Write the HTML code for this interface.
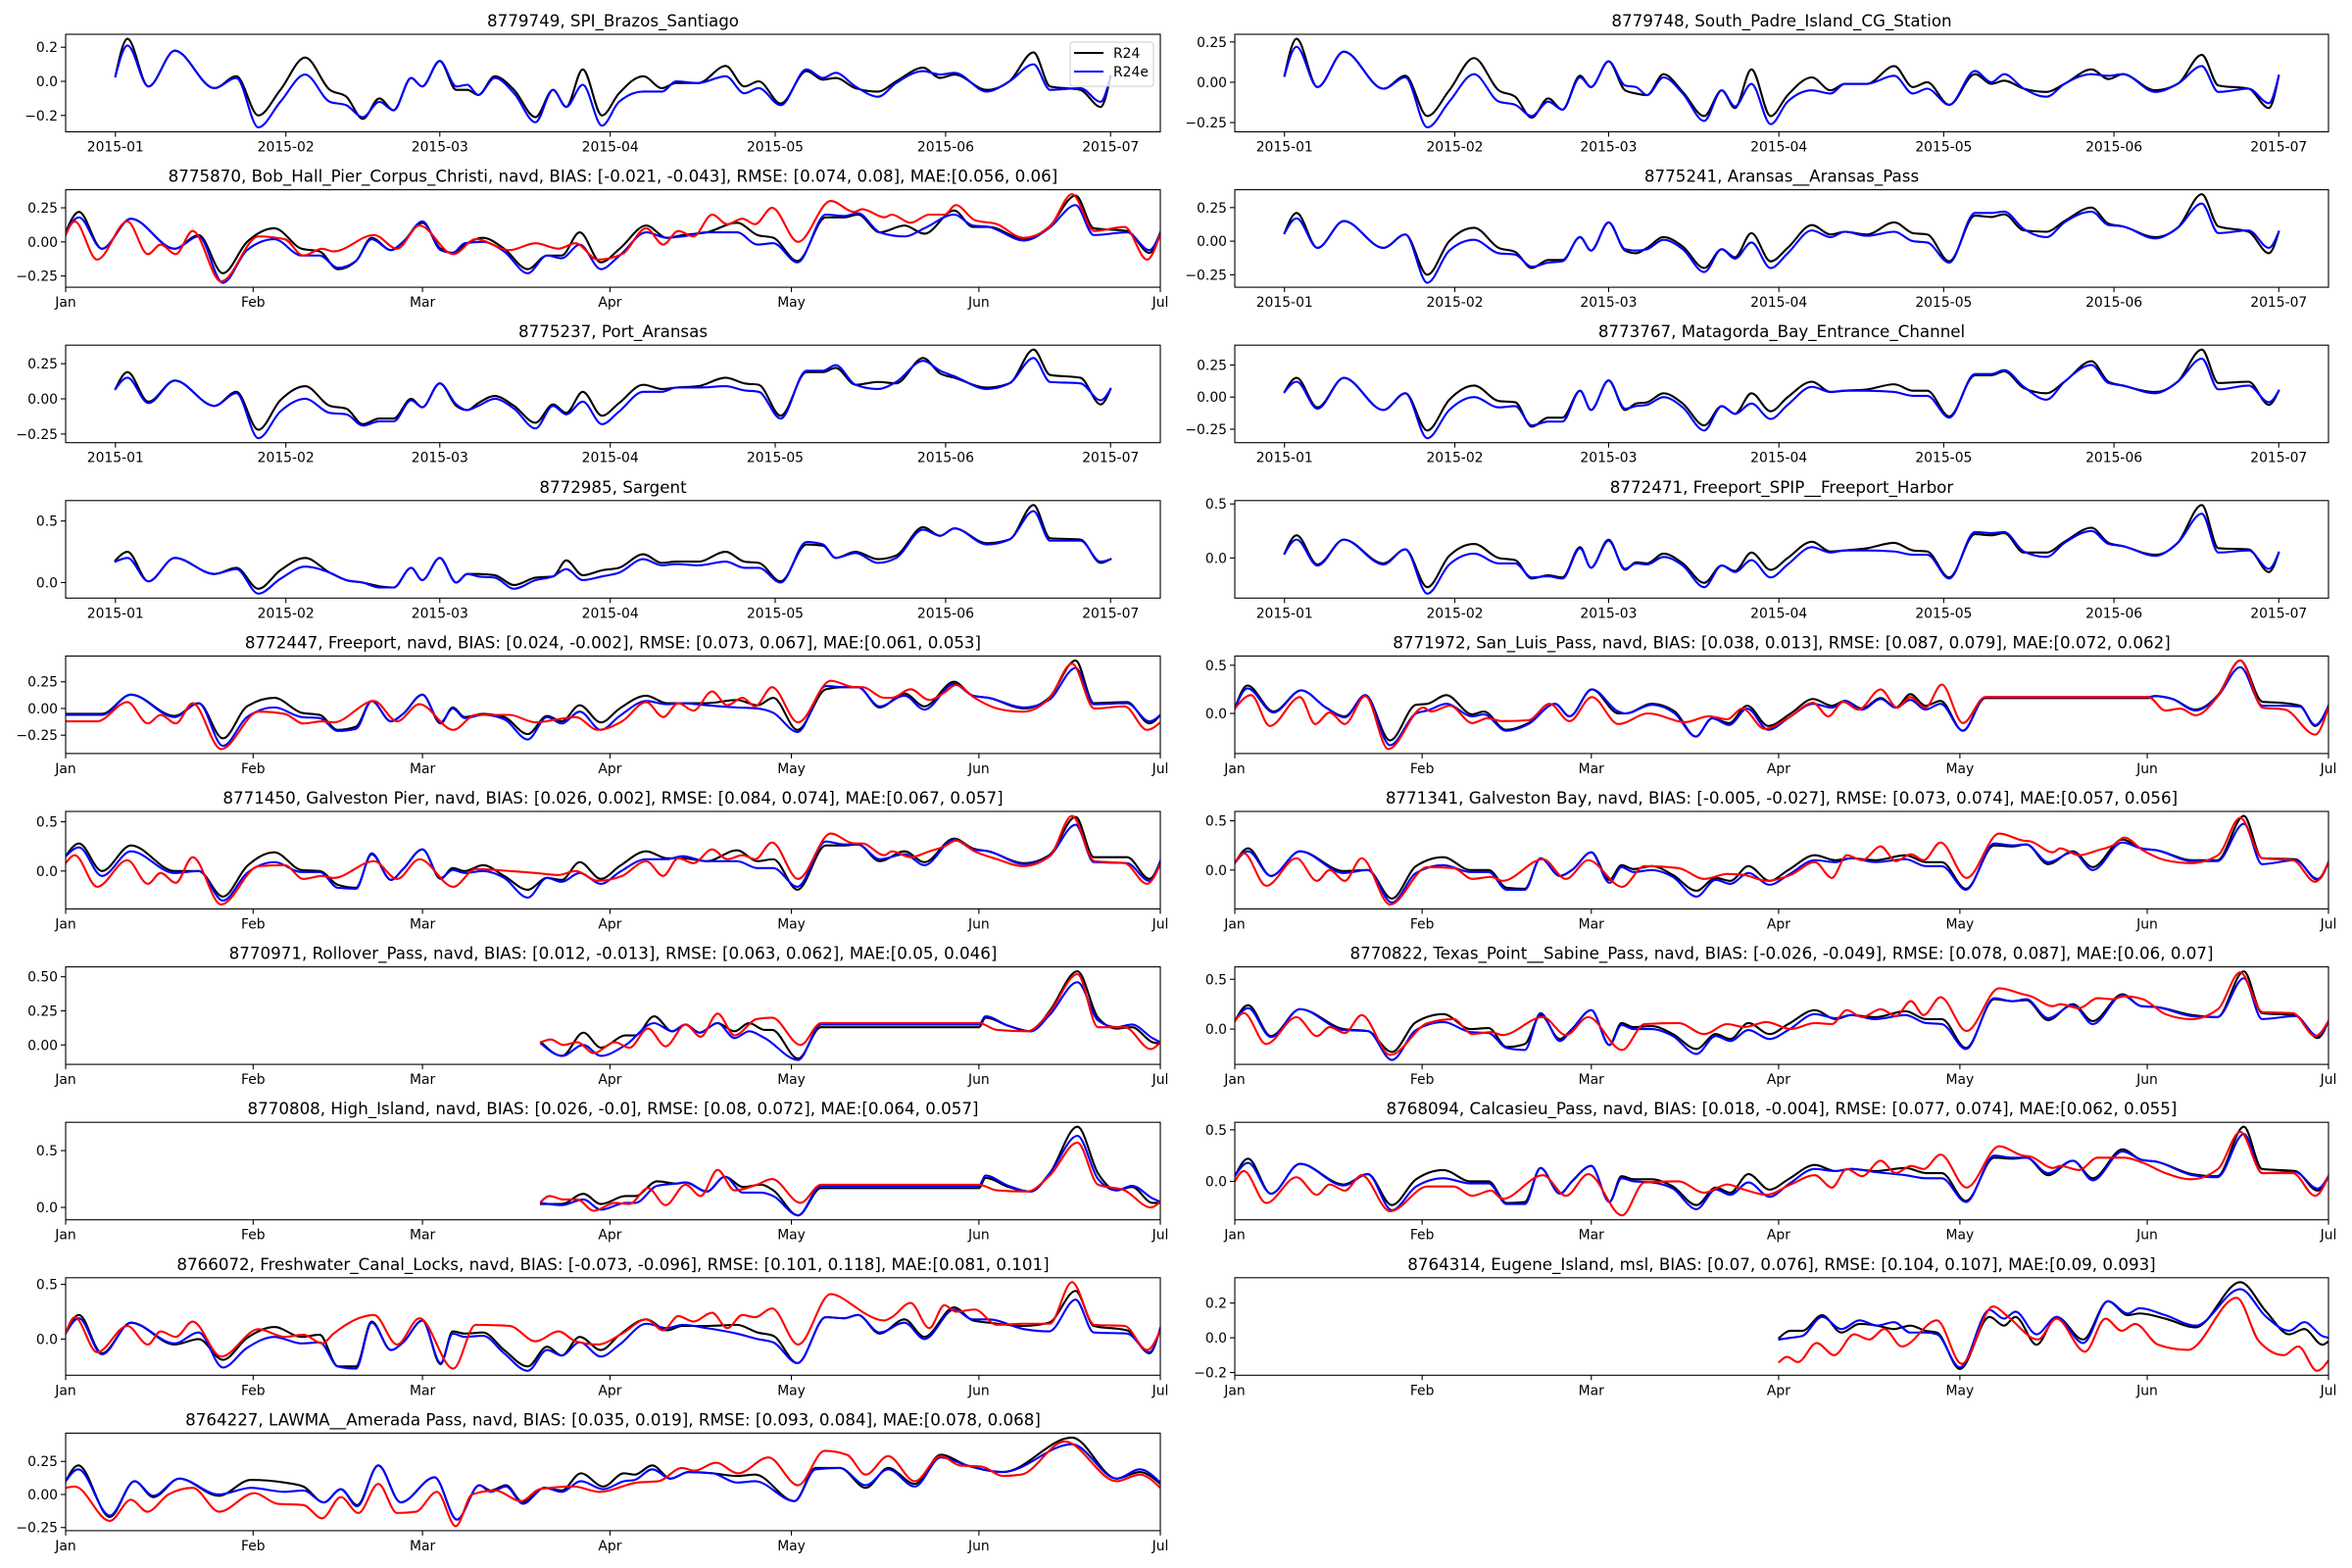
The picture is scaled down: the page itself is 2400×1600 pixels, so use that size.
<!DOCTYPE html>
<html><head><meta charset="utf-8"><title>Station comparison</title>
<style>
html,body{margin:0;padding:0;background:#fff;}
svg{display:block;font-family:"DejaVu Sans","Liberation Sans",sans-serif;}
</style></head>
<body>
<svg id="fig" width="2400" height="1600" viewBox="0 0 2400 1600" xmlns="http://www.w3.org/2000/svg">
<rect x="0" y="0" width="2400" height="1600" fill="#fff"/>
</svg>
<script>
// ---- shared day grids (days since 2015-01-01) ----
const D = [0,2.2,6,10.8,18,22,26,30,34.5,39,42,45,48,50.6,53.8,55.8,59,62,64,66,69,72.5,76.4,79.6,82,85,88.5,91.6,96,99.4,102,106,111,114.4,117,121,125.7,128.7,131,134.6,138.7,142,146.9,150,152.6,158.5,162.6,167,170,175.5,179.2,181];
const DR = [0,1.5,5.2,10.2,13.6,15.7,18.2,21,25.7,31.9,36.2,39.3,42.4,44.3,51,54.8,58.5,64.1,67.8,73.4,77.7,81.5,84.3,88,92,96,98.8,101.3,103.8,106.9,109.4,111.9,114,116.8,121.1,126.5,130.4,131.7,135.4,136.6,139.7,142.8,145.3,147.2,150.3,154,158.3,162.7,166.4,170.1,175.1,178.8,181];
const yearTickDays = [0,31,59,90,120,151,181];
const yearTickLabels = ["2015-01","2015-02","2015-03","2015-04","2015-05","2015-06","2015-07"];
const monthTickLabels = ["Jan","Feb","Mar","Apr","May","Jun","Jul"];

// ---- series values ----
const spiR24 = [0.03,0.25,-0.03,0.18,-0.04,0.03,-0.20,-0.05,0.14,-0.05,-0.09,-0.22,-0.10,-0.17,0.02,-0.03,0.12,-0.05,-0.05,-0.08,0.03,-0.05,-0.21,-0.05,-0.15,0.07,-0.20,-0.07,0.03,-0.04,-0.01,-0.01,0.09,-0.03,0.00,-0.13,0.06,0.01,0.02,-0.04,-0.06,0.00,0.08,0.02,0.04,-0.05,0.00,0.17,-0.03,-0.05,-0.15,0.03];
const spiR24e = [0.03,0.21,-0.03,0.18,-0.04,0.02,-0.27,-0.12,0.04,-0.12,-0.14,-0.21,-0.12,-0.17,0.02,-0.03,0.12,-0.03,-0.02,-0.08,0.02,-0.07,-0.24,-0.05,-0.15,-0.02,-0.26,-0.12,-0.06,-0.06,0.00,-0.01,0.03,-0.07,-0.04,-0.14,0.07,0.02,0.05,-0.03,-0.09,-0.01,0.06,0.04,0.05,-0.06,0.00,0.10,-0.05,-0.04,-0.12,0.03];
const spcgR24 = [0.04,0.27,-0.03,0.19,-0.04,0.04,-0.21,-0.05,0.15,-0.05,-0.09,-0.22,-0.10,-0.17,0.04,-0.03,0.13,-0.05,-0.07,-0.08,0.05,-0.06,-0.21,-0.05,-0.16,0.08,-0.21,-0.08,0.03,-0.05,-0.01,-0.01,0.10,-0.03,0.00,-0.14,0.05,-0.01,0.01,-0.04,-0.06,-0.01,0.08,0.02,0.05,-0.05,-0.01,0.17,-0.02,-0.04,-0.16,0.04];
const spcgR24e = [0.04,0.22,-0.03,0.19,-0.04,0.03,-0.28,-0.12,0.05,-0.12,-0.14,-0.21,-0.12,-0.17,0.03,-0.03,0.13,-0.02,-0.03,-0.08,0.03,-0.07,-0.24,-0.05,-0.15,-0.01,-0.26,-0.12,-0.05,-0.07,-0.01,-0.01,0.04,-0.07,-0.04,-0.14,0.07,0.00,0.05,-0.04,-0.09,-0.01,0.05,0.04,0.05,-0.06,-0.01,0.10,-0.06,-0.04,-0.13,0.04];
const bobR24 = [0.07,0.22,-0.05,0.17,-0.05,0.05,-0.23,0.00,0.10,-0.05,-0.07,-0.20,-0.14,0.03,-0.06,0.00,0.14,-0.05,-0.08,-0.02,0.03,-0.05,-0.20,-0.10,-0.10,0.07,-0.15,-0.05,0.12,0.03,0.05,0.07,0.14,0.05,0.03,-0.14,0.18,0.18,0.20,0.07,0.12,0.06,0.23,0.11,0.11,0.02,0.11,0.34,0.10,0.08,-0.08,0.07];
const bobR24e = [0.07,0.18,-0.05,0.17,-0.05,0.04,-0.30,-0.06,0.02,-0.10,-0.10,-0.19,-0.14,0.02,-0.06,0.00,0.15,-0.06,-0.08,-0.01,0.00,-0.07,-0.23,-0.10,-0.12,-0.02,-0.20,-0.10,0.07,0.03,0.04,0.07,0.07,-0.02,-0.01,-0.15,0.20,0.19,0.21,0.07,0.04,0.10,0.20,0.12,0.11,0.01,0.10,0.27,0.05,0.07,-0.06,0.07];
const bobObs = [0.05,0.15,-0.13,0.15,-0.09,-0.02,-0.09,0.08,-0.29,0.04,0.02,-0.10,-0.05,-0.07,0.05,-0.05,0.12,-0.09,0.02,-0.06,-0.01,-0.05,-0.01,-0.13,-0.09,0.10,-0.02,0.08,0.04,0.20,0.13,0.17,0.13,0.25,0.00,0.30,0.22,0.24,0.18,0.20,0.14,0.20,0.20,0.27,0.16,0.13,0.03,0.11,0.35,0.08,0.11,-0.13,0.06];
const araR24 = [0.06,0.21,-0.05,0.15,-0.05,0.05,-0.25,0.00,0.10,-0.05,-0.08,-0.20,-0.14,-0.14,0.03,-0.07,0.14,-0.07,-0.09,-0.05,0.03,-0.04,-0.20,-0.06,-0.12,0.06,-0.15,-0.05,0.12,0.05,0.07,0.05,0.14,0.06,0.05,-0.15,0.19,0.18,0.20,0.08,0.07,0.15,0.25,0.13,0.11,0.03,0.10,0.35,0.11,0.07,-0.09,0.07];
const araR24e = [0.06,0.17,-0.05,0.15,-0.05,0.05,-0.31,-0.07,0.01,-0.09,-0.10,-0.19,-0.16,-0.15,0.03,-0.07,0.14,-0.06,-0.07,-0.06,0.01,-0.06,-0.23,-0.06,-0.13,-0.01,-0.20,-0.09,0.08,0.03,0.07,0.04,0.07,0.00,-0.01,-0.16,0.21,0.21,0.22,0.09,0.03,0.14,0.22,0.12,0.11,0.02,0.10,0.28,0.06,0.08,-0.05,0.07];
const portR24 = [0.07,0.19,-0.02,0.13,-0.05,0.05,-0.22,-0.01,0.09,-0.05,-0.07,-0.18,-0.14,-0.14,0.00,-0.06,0.11,-0.05,-0.08,-0.03,0.02,-0.05,-0.17,-0.04,-0.10,0.05,-0.12,-0.03,0.10,0.07,0.08,0.09,0.15,0.11,0.10,-0.12,0.19,0.19,0.22,0.10,0.12,0.11,0.29,0.18,0.15,0.08,0.11,0.35,0.17,0.15,-0.04,0.07];
const portR24e = [0.07,0.15,-0.03,0.13,-0.05,0.04,-0.28,-0.09,0.00,-0.10,-0.11,-0.19,-0.16,-0.16,-0.01,-0.06,0.11,-0.04,-0.08,-0.05,0.00,-0.07,-0.21,-0.05,-0.11,-0.02,-0.18,-0.09,0.05,0.05,0.08,0.08,0.09,0.06,0.05,-0.14,0.20,0.20,0.24,0.10,0.07,0.12,0.27,0.20,0.16,0.07,0.11,0.29,0.12,0.11,-0.01,0.07];
const matR24 = [0.04,0.15,-0.08,0.15,-0.10,0.03,-0.26,-0.02,0.09,-0.03,-0.04,-0.23,-0.16,-0.16,0.05,-0.10,0.13,-0.10,-0.05,-0.04,0.03,-0.05,-0.22,-0.07,-0.13,0.03,-0.11,0.00,0.12,0.04,0.05,0.06,0.10,0.05,0.05,-0.15,0.17,0.17,0.20,0.07,0.03,0.12,0.28,0.12,0.09,0.04,0.12,0.37,0.11,0.12,-0.06,0.05];
const matR24e = [0.04,0.12,-0.09,0.15,-0.10,0.03,-0.32,-0.10,0.00,-0.08,-0.07,-0.22,-0.19,-0.19,0.05,-0.10,0.13,-0.09,-0.07,-0.06,0.00,-0.08,-0.26,-0.07,-0.13,-0.05,-0.17,-0.06,0.08,0.04,0.05,0.05,0.04,0.01,0.01,-0.16,0.18,0.18,0.21,0.08,-0.02,0.12,0.25,0.11,0.09,0.03,0.12,0.30,0.06,0.09,-0.04,0.05];
const sarR24 = [0.18,0.25,0.01,0.20,0.07,0.12,-0.05,0.10,0.20,0.08,0.02,0.00,-0.03,-0.04,0.12,0.02,0.20,0.00,0.07,0.07,0.06,-0.02,0.04,0.05,0.18,0.06,0.10,0.12,0.23,0.16,0.17,0.17,0.25,0.17,0.16,0.01,0.31,0.30,0.20,0.25,0.19,0.22,0.45,0.38,0.44,0.32,0.35,0.63,0.36,0.35,0.16,0.19];
const sarR24e = [0.17,0.20,0.01,0.20,0.07,0.11,-0.09,0.03,0.13,0.08,0.02,0.00,-0.04,-0.04,0.12,0.02,0.20,0.00,0.07,0.05,0.04,-0.05,0.02,0.05,0.11,0.02,0.05,0.08,0.19,0.14,0.15,0.14,0.17,0.12,0.12,0.00,0.33,0.31,0.20,0.24,0.16,0.20,0.43,0.38,0.44,0.31,0.35,0.58,0.34,0.34,0.17,0.19];
const fspR24 = [0.04,0.21,-0.06,0.17,-0.05,0.08,-0.27,0.02,0.13,0.00,-0.02,-0.19,-0.16,-0.18,0.10,-0.09,0.17,-0.11,-0.04,-0.05,0.04,-0.05,-0.23,-0.07,-0.12,0.05,-0.11,0.00,0.15,0.06,0.07,0.09,0.14,0.07,0.06,-0.18,0.22,0.21,0.23,0.05,0.05,0.15,0.28,0.14,0.11,0.03,0.14,0.49,0.09,0.08,-0.13,0.05];
const fspR24e = [0.04,0.17,-0.07,0.17,-0.06,0.08,-0.33,-0.06,0.04,-0.05,-0.05,-0.18,-0.17,-0.19,0.09,-0.09,0.16,-0.10,-0.05,-0.06,0.01,-0.07,-0.27,-0.07,-0.13,-0.02,-0.18,-0.06,0.10,0.05,0.07,0.07,0.06,0.03,0.03,-0.19,0.24,0.23,0.24,0.06,0.01,0.14,0.25,0.13,0.11,0.02,0.14,0.41,0.05,0.07,-0.10,0.05];
const frR24 = [-0.05,-0.05,-0.05,0.13,-0.07,0.05,-0.28,0.02,0.10,-0.04,-0.06,-0.20,-0.17,0.07,-0.12,-0.05,0.13,-0.14,0.01,-0.08,-0.05,-0.08,-0.24,-0.07,-0.12,0.03,-0.13,0.00,0.12,0.05,0.05,0.05,0.08,0.03,0.10,-0.20,0.18,0.20,0.20,0.01,0.14,0.02,0.25,0.12,0.10,0.00,0.10,0.45,0.05,0.06,-0.14,-0.06];
const frR24e = [-0.06,-0.06,-0.06,0.13,-0.08,0.05,-0.35,-0.08,0.01,-0.08,-0.09,-0.21,-0.19,0.07,-0.12,-0.05,0.13,-0.13,0.00,-0.09,-0.06,-0.10,-0.29,-0.08,-0.14,-0.03,-0.20,-0.07,0.07,0.04,0.05,0.03,0.01,0.00,-0.04,-0.22,0.21,0.20,0.20,0.02,0.12,-0.01,0.23,0.12,0.10,0.01,0.08,0.38,0.04,0.05,-0.12,-0.06];
const frObs = [-0.12,-0.12,-0.12,0.06,-0.14,-0.06,-0.14,0.05,-0.38,-0.03,-0.05,-0.14,-0.12,-0.13,0.07,-0.12,0.04,-0.20,-0.06,-0.06,-0.13,-0.10,-0.08,-0.20,-0.12,0.06,-0.08,0.05,-0.02,0.16,0.03,0.10,0.02,0.20,-0.13,0.26,0.20,0.20,0.10,0.10,0.18,0.08,0.15,0.22,0.10,0.00,-0.03,0.10,0.42,0.00,0.02,-0.20,-0.13];
const slpDays = [0,2.1,6.4,11,15.1,18.2,21.6,25.7,30,31.9,35,39.3,41.2,44.9,48.6,53,55.4,59.1,63.5,64.7,69,72.8,76.3,79,81.8,84.8,88.3,92,95.7,98.8,101,103.8,106.9,109.4,111.8,114.3,116.8,120.5,124.2,151.2,152.2,155.2,159,162.7,166.4,170.1,173.2,176.3,178.8,181];
const slpR24 = [0.05,0.29,0.02,0.24,0.06,-0.03,0.19,-0.28,0.09,0.10,0.19,-0.01,0.02,-0.17,-0.10,0.10,-0.03,0.25,0.00,0.00,0.10,0.02,-0.24,-0.05,-0.10,0.08,-0.13,0.00,0.15,0.08,0.13,0.05,0.16,0.06,0.20,0.08,0.13,-0.18,0.16,0.16,0.18,0.15,0.04,0.19,0.55,0.12,0.11,0.08,-0.13,0.08];
const slpR24e = [0.05,0.26,0.01,0.24,0.06,-0.04,0.19,-0.33,0.00,0.03,0.10,-0.03,-0.01,-0.18,-0.11,0.10,-0.03,0.25,0.02,0.00,0.09,0.00,-0.24,-0.05,-0.12,0.05,-0.17,-0.03,0.10,0.06,0.13,0.04,0.15,0.06,0.14,0.04,0.10,-0.18,0.17,0.17,0.18,0.15,0.03,0.18,0.48,0.08,0.08,0.07,-0.12,0.08];
const slpObsDays = [0,2.7,5.8,10.8,13.3,15.7,18.2,21.6,25.4,31.2,32.5,35.6,39.3,41.8,44.3,48.6,52.1,55.4,59.1,63.5,68.4,74.6,78.4,81.5,84,87.7,91.5,95.7,98.2,100.7,103.2,106.9,109.6,111.8,114.3,117,120.5,124.2,151.2,154,156.5,159,162.7,166.4,170.1,173.8,178.8,181];
const slpObs = [0.05,0.19,-0.13,0.17,-0.11,0.01,-0.11,0.18,-0.37,0.06,0.02,0.08,-0.10,-0.05,-0.08,-0.07,0.10,-0.08,0.17,-0.11,0.00,-0.09,-0.03,-0.06,0.05,-0.16,-0.05,0.11,-0.03,0.12,0.04,0.25,0.06,0.17,0.06,0.30,-0.10,0.17,0.17,0.03,0.05,-0.02,0.18,0.55,0.06,0.04,-0.22,0.07];
const gpR24 = [0.15,0.28,0.00,0.26,0.00,0.00,-0.26,0.05,0.19,0.01,0.00,-0.14,-0.17,0.17,-0.09,0.02,0.22,-0.08,0.03,0.00,0.06,-0.05,-0.19,-0.07,-0.09,0.09,-0.08,0.05,0.20,0.13,0.13,0.10,0.21,0.10,0.12,-0.19,0.26,0.26,0.27,0.10,0.20,0.09,0.33,0.23,0.20,0.08,0.16,0.55,0.14,0.14,-0.08,0.10];
const gpR24e = [0.15,0.24,-0.05,0.20,-0.02,0.00,-0.30,-0.02,0.09,-0.01,-0.01,-0.17,-0.18,0.18,-0.09,0.02,0.22,-0.07,0.01,-0.02,0.00,-0.07,-0.27,-0.07,-0.11,-0.02,-0.13,-0.01,0.12,0.12,0.15,0.10,0.10,0.03,0.03,-0.16,0.30,0.27,0.27,0.12,0.17,0.06,0.32,0.22,0.20,0.07,0.15,0.47,0.09,0.08,-0.10,0.10];
const gpObs = [0.08,0.16,-0.16,0.11,-0.13,-0.02,-0.12,0.14,-0.34,0.05,0.06,-0.08,-0.05,-0.07,0.10,-0.08,0.12,-0.16,0.02,0.00,-0.02,-0.04,0.00,-0.10,-0.05,0.10,-0.05,0.13,0.08,0.22,0.12,0.16,0.12,0.29,-0.08,0.38,0.28,0.28,0.16,0.20,0.14,0.20,0.25,0.31,0.20,0.12,0.05,0.15,0.56,0.10,0.08,-0.13,0.07];
const gbR24 = [0.07,0.22,-0.06,0.19,-0.01,0.00,-0.29,0.04,0.13,0.00,0.00,-0.18,-0.19,0.12,-0.06,0.00,0.18,-0.10,0.05,0.01,0.04,-0.05,-0.21,-0.08,-0.11,0.04,-0.11,0.00,0.15,0.10,0.12,0.10,0.15,0.08,0.08,-0.19,0.25,0.24,0.26,0.06,0.19,0.03,0.31,0.22,0.20,0.10,0.10,0.55,0.12,0.11,-0.10,0.08];
const gbR24e = [0.07,0.19,-0.06,0.19,-0.03,0.00,-0.33,-0.03,0.05,-0.02,-0.02,-0.20,-0.20,0.12,-0.06,0.00,0.18,-0.13,0.03,-0.02,0.00,-0.07,-0.27,-0.10,-0.14,-0.03,-0.15,-0.05,0.10,0.08,0.12,0.08,0.11,0.04,0.04,-0.20,0.27,0.25,0.26,0.08,0.18,0.00,0.28,0.22,0.20,0.09,0.09,0.47,0.06,0.10,-0.09,0.08];
const gbObs = [0.07,0.17,-0.16,0.12,-0.11,0.00,-0.11,0.12,-0.35,0.03,0.02,-0.09,-0.07,-0.11,0.11,-0.09,0.10,-0.17,0.04,0.02,-0.09,-0.04,-0.05,-0.11,-0.05,0.08,-0.08,0.15,0.10,0.24,0.09,0.16,0.10,0.28,-0.08,0.37,0.30,0.29,0.18,0.22,0.15,0.20,0.25,0.33,0.20,0.10,0.07,0.15,0.53,0.12,0.10,-0.12,0.08];
const roDays = [78.6,82.1,85.6,88.5,92.6,94.2,97.3,100.3,102.5,104.8,107.8,110.6,113,115.6,116.8,121.1,124.9,151,152.1,155.9,159.6,162.7,167.3,170.7,173.8,176.3,179.7,181];
const roR24 = [0.02,-0.08,0.09,-0.02,0.07,0.07,0.21,0.10,0.15,0.09,0.16,0.10,0.16,0.11,0.11,-0.10,0.13,0.13,0.20,0.14,0.10,0.25,0.54,0.20,0.12,0.13,0.02,0.01];
const roEDays = [78.6,82.1,85.6,88.5,92.6,97.3,100.3,102.5,104.8,107.8,110.6,113,115.6,121.1,124.9,151,152.1,155.9,159.6,162.7,167.3,170.7,173.8,176.3,179.7,181];
const roR24e = [0.01,-0.08,0.00,-0.08,0.00,0.16,0.10,0.15,0.09,0.16,0.05,0.10,0.05,-0.11,0.15,0.15,0.21,0.14,0.10,0.22,0.46,0.18,0.13,0.15,0.05,0.02];
const roObsDays = [78.6,80.2,82.3,84.6,87.3,90.8,93.2,96.3,99.2,102.5,105,107.8,110.6,114.3,116.8,121.5,124.9,151,154,159,162.7,167.3,170.7,175.1,179.4,181];
const roObs = [0.02,0.04,0.00,0.02,-0.06,0.02,-0.02,0.12,-0.01,0.15,0.06,0.23,0.07,0.19,0.20,0.00,0.16,0.16,0.11,0.10,0.24,0.52,0.13,0.13,-0.03,0.02];
const tpR24 = [0.08,0.24,-0.07,0.20,0.00,-0.02,-0.23,0.07,0.15,0.00,0.01,-0.18,-0.15,0.14,-0.10,0.00,0.19,-0.16,0.06,0.02,0.03,-0.05,-0.20,-0.05,-0.10,0.06,-0.05,0.05,0.19,0.10,0.14,0.12,0.18,0.10,0.10,-0.19,0.30,0.28,0.29,0.09,0.25,0.08,0.35,0.23,0.22,0.14,0.12,0.58,0.16,0.14,-0.09,0.08];
const tpR24e = [0.08,0.21,-0.08,0.20,-0.01,-0.02,-0.31,-0.01,0.07,-0.03,-0.04,-0.19,-0.21,0.16,-0.12,0.00,0.19,-0.16,0.04,0.00,0.00,-0.07,-0.25,-0.07,-0.12,-0.01,-0.10,-0.01,0.15,0.11,0.14,0.10,0.14,0.06,0.05,-0.20,0.31,0.28,0.30,0.11,0.24,0.05,0.34,0.23,0.22,0.13,0.12,0.51,0.10,0.13,-0.07,0.08];
const tpObs = [0.08,0.16,-0.15,0.12,-0.07,0.02,-0.04,0.14,-0.26,0.06,0.10,-0.05,-0.03,-0.06,0.12,-0.06,0.12,-0.21,0.05,0.06,-0.05,0.05,0.02,0.07,0.00,0.06,0.05,0.19,0.12,0.20,0.13,0.28,0.14,0.32,-0.02,0.41,0.35,0.33,0.23,0.25,0.21,0.31,0.30,0.33,0.30,0.15,0.10,0.20,0.57,0.17,0.16,-0.07,0.08];
const hiDays = [78.6,82,85.6,88.5,92.6,94.2,97.8,101,102.5,106,109,112,115,117,121.1,124.9,151,152.1,155.9,159.6,162.7,167.3,170.7,173.8,176.3,179.7,181];
const hiR24 = [0.03,0.03,0.12,0.03,0.10,0.10,0.23,0.21,0.22,0.14,0.27,0.18,0.20,0.15,-0.07,0.17,0.17,0.26,0.18,0.14,0.30,0.71,0.30,0.15,0.18,0.04,0.04];
const hiR24e = [0.04,0.02,0.07,-0.02,0.04,0.04,0.19,0.21,0.22,0.14,0.27,0.13,0.13,0.10,-0.07,0.19,0.19,0.28,0.19,0.14,0.30,0.63,0.25,0.15,0.19,0.08,0.05];
const hiObsDays = [78.6,80,82.3,84.6,87.3,90.8,93.2,96.3,99.2,102.5,105,107.8,110.6,114.3,116.8,121.5,124.9,151,154,159,162.7,167.3,170.7,175.1,179.4,181];
const hiObs = [0.05,0.10,0.07,0.07,-0.03,0.04,0.03,0.17,0.02,0.20,0.10,0.33,0.15,0.20,0.25,0.04,0.20,0.20,0.15,0.14,0.28,0.57,0.20,0.15,0.00,0.05];
const caR24 = [0.05,0.22,-0.12,0.17,-0.03,0.07,-0.23,0.02,0.11,0.00,0.00,-0.21,-0.20,0.13,-0.12,0.00,0.15,-0.20,0.05,0.02,0.02,-0.05,-0.23,-0.06,-0.11,0.07,-0.08,0.02,0.16,0.10,0.12,0.10,0.13,0.08,0.08,-0.19,0.23,0.22,0.23,0.06,0.20,0.03,0.31,0.21,0.19,0.07,0.05,0.53,0.12,0.10,-0.09,0.05];
const caR24e = [0.05,0.18,-0.12,0.17,-0.04,0.07,-0.28,-0.05,0.03,-0.02,-0.02,-0.22,-0.22,0.13,-0.12,0.00,0.15,-0.20,0.03,0.00,-0.01,-0.07,-0.27,-0.08,-0.13,-0.01,-0.15,-0.03,0.12,0.10,0.12,0.09,0.06,0.03,0.03,-0.20,0.25,0.23,0.23,0.08,0.20,0.01,0.29,0.21,0.19,0.06,0.04,0.46,0.08,0.09,-0.07,0.05];
const caObs = [0.00,0.10,-0.21,0.04,-0.13,-0.03,-0.09,0.06,-0.29,-0.05,-0.05,-0.14,-0.09,-0.17,0.06,-0.14,0.07,-0.33,-0.01,0.00,-0.11,-0.03,-0.08,-0.13,-0.03,0.06,-0.06,0.12,0.05,0.20,0.08,0.15,0.12,0.26,-0.06,0.34,0.25,0.24,0.13,0.15,0.11,0.23,0.23,0.23,0.18,0.08,0.02,0.12,0.48,0.08,0.08,-0.14,0.05];
const fwR24 = [0.05,0.22,-0.13,0.15,-0.05,0.00,-0.19,0.01,0.11,0.02,0.04,-0.25,-0.25,0.16,-0.10,-0.03,0.17,-0.23,0.07,0.05,0.06,-0.10,-0.25,-0.07,-0.15,0.02,-0.10,0.04,0.18,0.08,0.12,0.12,0.13,0.06,0.03,-0.22,0.20,0.19,0.22,0.05,0.18,0.02,0.29,0.17,0.15,0.12,0.15,0.44,0.12,0.08,-0.13,0.10];
const fwR24e = [0.05,0.19,-0.14,0.15,-0.04,0.06,-0.26,-0.08,0.02,-0.04,-0.03,-0.25,-0.27,0.15,-0.10,-0.03,0.17,-0.22,0.05,0.02,0.03,-0.13,-0.29,-0.10,-0.15,-0.03,-0.16,-0.05,0.14,0.10,0.13,0.10,0.05,0.00,-0.03,-0.22,0.20,0.19,0.22,0.06,0.15,0.00,0.27,0.18,0.18,0.09,0.07,0.36,0.06,0.05,-0.12,0.10];
const fwObs = [0.05,0.20,-0.12,0.12,-0.05,0.07,0.02,0.16,-0.16,0.09,0.02,0.04,-0.04,0.05,0.22,-0.05,0.19,-0.27,0.13,0.12,-0.02,0.07,-0.02,-0.05,0.05,0.18,0.08,0.21,0.16,0.24,0.10,0.22,0.20,0.28,-0.05,0.41,0.30,0.25,0.17,0.20,0.33,0.10,0.31,0.25,0.27,0.13,0.14,0.14,0.52,0.13,0.12,-0.10,0.08];
const euDays = [90.1,92,93.9,97.2,100.4,103.4,106.3,109.1,111.8,114.3,116.2,120,124.9,127.3,129.2,132.7,136,140.4,144.5,147.8,149.7,154,159,166.4,170.7,174.5,177,180,181];
const euR24 = [0.00,0.04,0.04,0.13,0.03,0.08,0.07,0.05,0.07,0.04,0.03,-0.18,0.12,0.07,0.12,-0.04,0.12,-0.01,0.21,0.13,0.14,0.11,0.06,0.32,0.15,0.02,0.05,-0.04,-0.02];
const euR24e = [-0.01,0.00,0.01,0.12,0.05,0.10,0.07,0.09,0.03,0.03,0.02,-0.17,0.16,0.11,0.15,0.02,0.12,-0.03,0.21,0.14,0.17,0.13,0.07,0.28,0.12,0.04,0.09,0.01,0.00];
const euObsDays = [90.1,91.4,93.2,96.3,99.2,102.5,105,107.5,110.4,116.2,120.3,125.5,128,132.9,136,140.7,144.1,146.8,149,152.8,157.7,165.8,169.5,173.6,176,179.1,181];
const euObs = [-0.14,-0.11,-0.14,-0.03,-0.10,0.02,-0.01,0.05,-0.05,0.10,-0.15,0.18,0.12,-0.01,0.11,-0.08,0.11,0.04,0.08,-0.04,-0.07,0.23,-0.02,-0.10,-0.05,-0.19,-0.13];
const lwDays = [0,2.1,7.3,11.4,14.5,18.8,25.3,30.6,36.2,39.3,42.7,45.5,48.2,51.7,55.4,61,64.7,68.4,70.3,72.8,75.6,79.2,82,85.2,88.9,92.3,94.1,97,100,103,107,111,114,120.5,124,128,132.3,136,140.4,144.7,149,155,166.4,173.8,177.6,181];
const lwR24 = [0.10,0.22,-0.17,0.10,-0.02,0.12,-0.01,0.11,0.09,0.06,-0.06,0.04,-0.08,0.22,-0.06,0.13,-0.19,0.07,0.03,0.07,-0.06,0.05,0.03,0.16,0.06,0.16,0.15,0.22,0.12,0.17,0.16,0.14,0.15,-0.05,0.20,0.20,0.05,0.20,0.08,0.30,0.22,0.17,0.43,0.12,0.17,0.08];
const lwR24e = [0.10,0.19,-0.16,0.10,-0.01,0.12,0.00,0.05,0.02,0.03,-0.06,0.04,-0.09,0.22,-0.06,0.13,-0.19,0.07,0.02,0.06,-0.07,0.05,0.02,0.10,0.04,0.10,0.11,0.19,0.12,0.17,0.16,0.09,0.10,-0.05,0.19,0.20,0.07,0.19,0.06,0.28,0.22,0.17,0.38,0.12,0.19,0.09];
const lwObsDays = [0,1.5,7.3,10.8,13.5,17,21,25.4,31.2,35,39.3,42.4,45.5,48.4,51.7,54.8,57.9,61.4,64.5,67.2,71,75.3,78.4,84,88.3,94.5,98,101.9,104,107.5,111.2,116.2,121.1,125.5,129.2,132.3,136,140.4,144.7,147.8,151.5,155,158,165.2,173.8,177.6,181];
const lwObs = [0.05,0.06,-0.20,-0.04,-0.13,0.00,0.05,-0.13,0.01,-0.07,-0.08,-0.18,-0.02,-0.14,0.08,-0.14,-0.13,0.02,-0.24,0.00,0.03,-0.05,0.04,0.06,0.02,0.09,0.10,0.20,0.18,0.24,0.16,0.28,0.07,0.33,0.30,0.15,0.29,0.10,0.29,0.22,0.21,0.14,0.15,0.40,0.10,0.15,0.05];

// ---- tick arrays ----
const ticksA = [-0.2,0,0.2];
const ticksB = [-0.25,0,0.25];
const ticksC = [0,0.5];
const ticksD = [0,0.25,0.5];

const K='#000000', B='#0000ff', R='#ff0000';
const panels = [
 {t:"8779749, SPI_Brazos_Santiago",col:0,row:0,yr:true,ticks:ticksA,dec:1,legend:true,s:[[D,spiR24,K],[D,spiR24e,B]]},
 {t:"8779748, South_Padre_Island_CG_Station",col:1,row:0,yr:true,ticks:ticksB,dec:2,s:[[D,spcgR24,K],[D,spcgR24e,B]]},
 {t:"8775870, Bob_Hall_Pier_Corpus_Christi, navd, BIAS: [-0.021, -0.043], RMSE: [0.074, 0.08], MAE:[0.056, 0.06]",col:0,row:1,yr:false,ticks:ticksB,dec:2,s:[[D,bobR24,K],[D,bobR24e,B],[DR,bobObs,R]]},
 {t:"8775241, Aransas__Aransas_Pass",col:1,row:1,yr:true,ticks:ticksB,dec:2,s:[[D,araR24,K],[D,araR24e,B]]},
 {t:"8775237, Port_Aransas",col:0,row:2,yr:true,ticks:ticksB,dec:2,s:[[D,portR24,K],[D,portR24e,B]]},
 {t:"8773767, Matagorda_Bay_Entrance_Channel",col:1,row:2,yr:true,ticks:ticksB,dec:2,s:[[D,matR24,K],[D,matR24e,B]]},
 {t:"8772985, Sargent",col:0,row:3,yr:true,ticks:ticksC,dec:1,s:[[D,sarR24,K],[D,sarR24e,B]]},
 {t:"8772471, Freeport_SPIP__Freeport_Harbor",col:1,row:3,yr:true,ticks:ticksC,dec:1,s:[[D,fspR24,K],[D,fspR24e,B]]},
 {t:"8772447, Freeport, navd, BIAS: [0.024, -0.002], RMSE: [0.073, 0.067], MAE:[0.061, 0.053]",col:0,row:4,yr:false,ticks:ticksB,dec:2,s:[[D,frR24,K],[D,frR24e,B],[DR,frObs,R]]},
 {t:"8771972, San_Luis_Pass, navd, BIAS: [0.038, 0.013], RMSE: [0.087, 0.079], MAE:[0.072, 0.062]",col:1,row:4,yr:false,ticks:ticksC,dec:1,s:[[slpDays,slpR24,K],[slpDays,slpR24e,B],[slpObsDays,slpObs,R]]},
 {t:"8771450, Galveston Pier, navd, BIAS: [0.026, 0.002], RMSE: [0.084, 0.074], MAE:[0.067, 0.057]",col:0,row:5,yr:false,ticks:ticksC,dec:1,s:[[D,gpR24,K],[D,gpR24e,B],[DR,gpObs,R]]},
 {t:"8771341, Galveston Bay, navd, BIAS: [-0.005, -0.027], RMSE: [0.073, 0.074], MAE:[0.057, 0.056]",col:1,row:5,yr:false,ticks:ticksC,dec:1,s:[[D,gbR24,K],[D,gbR24e,B],[DR,gbObs,R]]},
 {t:"8770971, Rollover_Pass, navd, BIAS: [0.012, -0.013], RMSE: [0.063, 0.062], MAE:[0.05, 0.046]",col:0,row:6,yr:false,ticks:ticksD,dec:2,s:[[roDays,roR24,K],[roEDays,roR24e,B],[roObsDays,roObs,R]]},
 {t:"8770822, Texas_Point__Sabine_Pass, navd, BIAS: [-0.026, -0.049], RMSE: [0.078, 0.087], MAE:[0.06, 0.07]",col:1,row:6,yr:false,ticks:ticksC,dec:1,s:[[D,tpR24,K],[D,tpR24e,B],[DR,tpObs,R]]},
 {t:"8770808, High_Island, navd, BIAS: [0.026, -0.0], RMSE: [0.08, 0.072], MAE:[0.064, 0.057]",col:0,row:7,yr:false,ticks:ticksC,dec:1,s:[[hiDays,hiR24,K],[hiDays,hiR24e,B],[hiObsDays,hiObs,R]]},
 {t:"8768094, Calcasieu_Pass, navd, BIAS: [0.018, -0.004], RMSE: [0.077, 0.074], MAE:[0.062, 0.055]",col:1,row:7,yr:false,ticks:ticksC,dec:1,s:[[D,caR24,K],[D,caR24e,B],[DR,caObs,R]]},
 {t:"8766072, Freshwater_Canal_Locks, navd, BIAS: [-0.073, -0.096], RMSE: [0.101, 0.118], MAE:[0.081, 0.101]",col:0,row:8,yr:false,ticks:ticksC,dec:1,s:[[D,fwR24,K],[D,fwR24e,B],[DR,fwObs,R]]},
 {t:"8764314, Eugene_Island, msl, BIAS: [0.07, 0.076], RMSE: [0.104, 0.107], MAE:[0.09, 0.093]",col:1,row:8,yr:false,ticks:ticksA,dec:1,s:[[euDays,euR24,K],[euDays,euR24e,B],[euObsDays,euObs,R]]},
 {t:"8764227, LAWMA__Amerada Pass, navd, BIAS: [0.035, 0.019], RMSE: [0.093, 0.084], MAE:[0.078, 0.068]",col:0,row:9,yr:false,ticks:ticksB,dec:2,s:[[lwDays,lwR24,K],[lwDays,lwR24e,B],[lwObsDays,lwObs,R]]}
];

const NS='http://www.w3.org/2000/svg';
const svg=document.getElementById('fig');
function mk(tag,attrs,parent){const e=document.createElementNS(NS,tag);for(const k in attrs)e.setAttribute(k,attrs[k]);(parent||svg).appendChild(e);return e;}
function slope3(x0,y0,x1,y1,x2,y2){const h0=x1-x0,h1=x2-x1,s0=(y1-y0)/(h0||1e-9),s1=(y2-y1)/(h1||1e-9),p=(s0*h1+s1*h0)/(h0+h1);return (Math.sign(s0)+Math.sign(s1))*Math.min(Math.abs(s0),Math.abs(s1),0.5*Math.abs(p))||0;}
function monoPath(pts){const n=pts.length;if(n<2)return '';const t=new Array(n);
 for(let i=1;i<n-1;i++)t[i]=slope3(pts[i-1][0],pts[i-1][1],pts[i][0],pts[i][1],pts[i+1][0],pts[i+1][1]);
 const h0=pts[1][0]-pts[0][0];t[0]=n>2?((3*(pts[1][1]-pts[0][1])/h0-t[1])/2):(pts[1][1]-pts[0][1])/h0;
 const hl=pts[n-1][0]-pts[n-2][0];t[n-1]=n>2?((3*(pts[n-1][1]-pts[n-2][1])/hl-t[n-2])/2):(pts[n-1][1]-pts[n-2][1])/hl;
 let d='M'+pts[0][0].toFixed(2)+','+pts[0][1].toFixed(2);
 for(let i=0;i<n-1;i++){const [x0,y0]=pts[i],[x1,y1]=pts[i+1],h=(x1-x0)/3;
  d+='C'+(x0+h).toFixed(2)+','+(y0+t[i]*h).toFixed(2)+' '+(x1-h).toFixed(2)+','+(y1-t[i+1]*h).toFixed(2)+' '+x1.toFixed(2)+','+y1.toFixed(2);}
 return d;}
function fmt(v,dec){const s=Math.abs(v).toFixed(dec);return (v<-1e-9?'\u2212':'')+s;}

const COLX=[67,1260], AW=[1117,1116], TOP0=35, PITCH=158.6, AH=99.5;
panels.forEach((p,pi)=>{
 const x0=COLX[p.col], w=AW[p.col], y0=TOP0+p.row*PITCH, h=AH;
 const g=mk('g',{});
 
 
 // y range with 5% margin
 let mn=Infinity,mx=-Infinity;
 p.s.forEach(s=>s[1].forEach(v=>{if(v<mn)mn=v;if(v>mx)mx=v;}));
 const pad=(mx-mn)*0.05, ymin=mn-pad, ymax=mx+pad;
 const xmin=p.yr?-9.05:0, xmax=p.yr?190.05:181;
 const X=d=>x0+(d-xmin)/(xmax-xmin)*w;
 const Y=v=>y0+(ymax-v)/(ymax-ymin)*h;
 // title
 const tt=mk('text',{x:x0+w/2,y:y0-8,'text-anchor':'middle','font-size':'16.7',fill:'#000'},g);
 tt.textContent=p.t;
 
 
 // clip
 const cp=mk('clipPath',{id:'clip'+pi},g);
 mk('rect',{x:x0,y:y0,width:w,height:h},cp);
 // series
 p.s.forEach((s,si)=>{
  const days=s[0], vals=s[1], n=Math.min(days.length,vals.length), pts=[];
  for(let i=0;i<n;i++)pts.push([X(days[i]),Y(vals[i])]);
  const path=mk('path',{d:monoPath(pts),fill:'none',stroke:s[2],'stroke-width':'2.1','stroke-linejoin':'round','stroke-linecap':'square','clip-path':'url(#clip'+pi+')'},g);
  
  
 });
 // frame
 const fr=mk('rect',{x:x0,y:y0,width:w,height:h,fill:'none',stroke:'#000','stroke-width':'1.1'},g);
 
 
 // x ticks
 yearTickDays.forEach((d,i)=>{
  const xx=X(d);
  mk('line',{x1:xx,x2:xx,y1:y0+h,y2:y0+h+5,stroke:'#000','stroke-width':'1.1'},g);
  const lb=mk('text',{x:xx,y:y0+h+20,'text-anchor':'middle','font-size':'13.9',fill:'#000'},g);
  lb.textContent=p.yr?yearTickLabels[i]:monthTickLabels[i];
  
  
 });
 // y ticks
 p.ticks.forEach(v=>{
  const yy=Y(v);
  mk('line',{x1:x0-5,x2:x0,y1:yy,y2:yy,stroke:'#000','stroke-width':'1.1'},g);
  const lb=mk('text',{x:x0-8,y:yy+5,'text-anchor':'end','font-size':'13.9',fill:'#000'},g);
  lb.textContent=fmt(v,p.dec);
  
  
 });
 if(p.legend){
  const lg=mk('g',{},g);
  
  
  mk('rect',{x:1092,y:43,width:85,height:45,rx:3,fill:'#fff','fill-opacity':'0.8',stroke:'#cccccc','stroke-width':'1'},lg);
  [['R24',K,54],['R24e',B,73]].forEach(e=>{
   const it=mk('g',{},lg);
   
   
   mk('line',{x1:1096,x2:1126,y1:e[2],y2:e[2],stroke:e[1],'stroke-width':'2.1'},it);
   const tx=mk('text',{x:1136,y:e[2]+5,'font-size':'13.9',fill:'#000'},it);
   tx.textContent=e[0];
  });
 }
});
</script>
</body></html>
